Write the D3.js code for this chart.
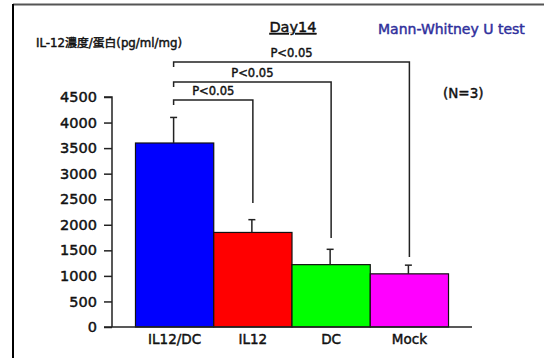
<!DOCTYPE html>
<html lang="ja">
  <head>
    <meta charset="UTF-8" />
    <title>Day14 IL-12</title>
    <script src="https://d3js.org/d3.v7.min.js"></script>
    <style>
      body {
        margin: 0;
        background: #fff;
      }
      svg text {
        font-family: "DejaVu Sans", "Noto Sans CJK JP", sans-serif;
        font-weight: normal;
        fill: #111;
        stroke: #111;
        stroke-width: 0.45px;
      }
    </style>
  </head>
  <body>
    <svg id="chart" width="544" height="358"></svg>

    <script>
      // data
      const groups = ["IL12/DC", "IL12", "DC", "Mock"];
      const means = [3600, 1850, 1220, 1040];
      const errors = [500, 250, 300, 170];
      const barColors = ["#0000ff", "#ff0000", "#00ff00", "#ff00ff"];
      const yTicks = [0, 500, 1000, 1500, 2000, 2500, 3000, 3500, 4000, 4500];
      // comparisons against IL12/DC, innermost first
      const comparisons = ["IL12", "DC", "Mock"];
      const pLabels = ["P<0.05", "P<0.05", "P<0.05"];

      const svg = d3.select("#chart");

      // frame
      svg.append("line")
        .attr("x1", 13).attr("x2", 544).attr("y1", 4.5).attr("y2", 4.5)
        .attr("stroke", "#555").attr("stroke-width", 2);
      svg.append("line")
        .attr("x1", 13).attr("x2", 13).attr("y1", 4).attr("y2", 358)
        .attr("stroke", "#000").attr("stroke-width", 2);

      const plotLeft = 112, plotRight = 472, plotTop = 97, plotBottom = 327;

      const x = d3.scaleBand()
        .domain(groups)
        .range([plotLeft, plotRight])
        .paddingInner(0)
        .paddingOuter(0.3);

      const y = d3.scaleLinear().domain([0, 4500]).range([plotBottom, plotTop]);

      // bars
      svg.selectAll("rect.bar")
        .data(groups)
        .enter()
        .append("rect")
        .attr("class", "bar")
        .attr("x", (d) => x(d))
        .attr("width", x.bandwidth())
        .attr("y", (d, i) => y(means[i]))
        .attr("height", (d, i) => y(0) - y(means[i]))
        .attr("fill", (d, i) => barColors[i])
        .attr("stroke", "#111")
        .attr("stroke-width", 1.2);

      // error bars (upper only)
      const eb = svg.append("g").attr("stroke", "#222").attr("stroke-width", 1.5);
      groups.forEach((g, i) => {
        const cx = x(g) + x.bandwidth() / 2 - 1;
        eb.append("line")
          .attr("x1", cx).attr("x2", cx)
          .attr("y1", y(means[i])).attr("y2", y(means[i] + errors[i]));
        eb.append("line")
          .attr("x1", cx - 3.5).attr("x2", cx + 3.5)
          .attr("y1", y(means[i] + errors[i])).attr("y2", y(means[i] + errors[i]));
      });

      // y axis
      const yAxis = svg.append("g")
        .attr("transform", `translate(${plotLeft},0)`)
        .call(d3.axisLeft(y).tickValues(yTicks).tickFormat(d3.format("d")).tickSize(8).tickPadding(7));
      yAxis.select(".domain").attr("stroke", "#222").attr("stroke-width", 1.5)
        .attr("d", `M-8,${plotTop}H0V${plotBottom}`);
      yAxis.selectAll(".tick line").attr("stroke", "#222").attr("stroke-width", 1.5);
      yAxis.selectAll(".tick text").attr("font-size", 14.5);

      // x axis
      const xAxis = svg.append("g")
        .attr("transform", `translate(0,${plotBottom})`)
        .call(d3.axisBottom(x).tickSize(0).tickPadding(7));
      xAxis.select(".domain").attr("stroke", "#222").attr("stroke-width", 1.5)
        .attr("d", `M${plotLeft - 8},0H${plotRight}`);
      xAxis.selectAll(".tick text").attr("font-size", 13.5);

      // significance brackets
      const levels = [100, 82, 62];
      const drops = [203, 238, 257];
      const x0 = x(groups[0]) + x.bandwidth() / 2 - 1;
      const br = svg.append("g");
      comparisons.forEach((c, i) => {
        const x1 = x(c) + x.bandwidth() / 2;
        br.append("path")
          .attr("fill", "none")
          .attr("stroke", "#222")
          .attr("stroke-width", 1.5)
          .attr("d", `M${x0},${levels[i] + 5}V${levels[i]}H${x1}V${drops[i]}`);
        br.append("text")
          .attr("x", (x0 + x1) / 2)
          .attr("y", levels[i] - 5)
          .attr("text-anchor", "middle")
          .attr("font-size", 11.5)
          .text(pLabels[i]);
      });

      // titles
      svg.append("text")
        .attr("x", 36).attr("y", 47)
        .attr("font-size", 11.8)
        .text("IL-12濃度/蛋白(pg/ml/mg)");

      svg.append("text")
        .attr("x", 293).attr("y", 32)
        .attr("text-anchor", "middle")
        .attr("font-size", 14.5)
        .attr("text-decoration", "underline")
        .text("Day14");

      svg.append("text")
        .attr("x", 378).attr("y", 34)
        .attr("font-size", 14)
        .style("fill", "#2f2f9c")
        .style("stroke", "#2f2f9c")
        .text("Mann-Whitney U test");

      svg.append("text")
        .attr("x", 443).attr("y", 98)
        .attr("font-size", 13.5)
        .text("(N=3)");
    </script>
  </body>
</html>
